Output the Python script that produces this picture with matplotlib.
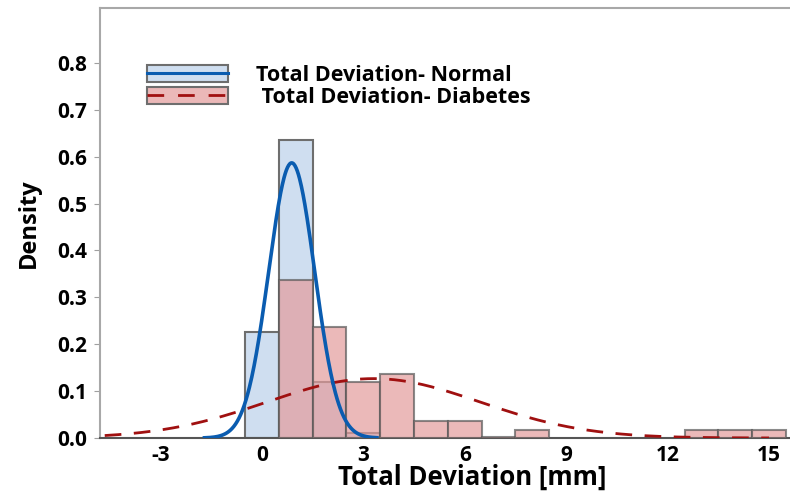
import numpy as np
import matplotlib.pyplot as plt
from matplotlib.patches import Patch
from matplotlib.lines import Line2D
from matplotlib.legend_handler import HandlerTuple

plt.rcParams['font.family'] = ['Open Sans', 'DejaVu Sans']
plt.rcParams['font.weight'] = 'bold'
plt.rcParams['axes.unicode_minus'] = False

# histogram densities, bins of width 1 centred on integers
normal_bins = [0, 1, 2, 3]
normal_density = [0.227, 0.635, 0.12, 0.01]
diab_bins = [1, 2, 3, 4, 5, 6, 7, 8, 13, 14, 15]
diab_density = [0.337, 0.237, 0.12, 0.136, 0.036, 0.036, 0.003, 0.017, 0.017, 0.017, 0.017]

# fitted normal curves (mean, sd) and drawn range
normal_fit = (0.88, 0.68)
normal_range = (-1.7, 3.4)
diab_fit = (3.3, 3.15)
diab_range = (-4.65, 15.0)


def pdf(x, mu, sd):
    return np.exp(-0.5 * ((x - mu) / sd) ** 2) / (sd * np.sqrt(2 * np.pi))


fig = plt.figure(figsize=(7.9, 4.93), dpi=100)
ax = fig.add_axes([100 / 790, 1 - 438 / 493, 1 - 100 / 790, (438 - 8) / 493])

ax.bar(normal_bins, normal_density, width=1.0, color='#cfdef0',
       edgecolor='#6e6e6e', linewidth=1.5, zorder=2)
ax.bar(diab_bins, diab_density, width=1.0, color='#e39c9c', alpha=0.7,
       edgecolor='#5a5a5a', linewidth=1.5, zorder=3)

xn = np.linspace(*normal_range, 300)
ax.plot(xn, pdf(xn, *normal_fit), color='#0a5cb0', lw=2.6, zorder=5)
xd = np.linspace(*diab_range, 400)
ax.plot(xd, pdf(xd, *diab_fit), color='#a01010', lw=2, dashes=(6, 4.5), zorder=4)

ax.set_xlim(-4.79, 15.62)
ax.set_ylim(0, 0.917)
ax.set_xticks([-3, 0, 3, 6, 9, 12, 15])
ax.set_yticks(np.arange(0, 0.81, 0.1))
ax.set_yticklabels([f'{v:.1f}' for v in np.arange(0, 0.81, 0.1)])
ax.tick_params(axis='both', labelsize=15, colors='#a0a0a0', labelcolor='black')
ax.tick_params(axis='x', length=0, pad=5)
ax.tick_params(axis='y', length=4, pad=5)

for s in ['left', 'top']:
    ax.spines[s].set_color('#a8a8a8')
    ax.spines[s].set_linewidth(1.5)
ax.spines['bottom'].set_color('#555555')
ax.spines['bottom'].set_linewidth(1.5)
ax.spines['right'].set_visible(False)

ax.set_xlabel('Total Deviation [mm]', fontsize=18.5, fontweight='bold')
ax.xaxis.set_label_coords((472 - 100) / 690, -0.06, transform=ax.transAxes)
ax.xaxis.label.set_va('top')
ax.set_ylabel('Density', fontsize=17, fontweight='bold', labelpad=12)

h1 = (Patch(facecolor='#cfdef0', edgecolor='#6e6e6e', lw=1.5),
      Line2D([], [], color='#0a5cb0', lw=2.2))
h2 = (Patch(facecolor='#ebb8b8', edgecolor='#6e6e6e', lw=1.5),
      Line2D([], [], color='#a01010', lw=2, dashes=(6, 5)))
ax.legend([h1, h2], ['Total Deviation- Normal', ' Total Deviation- Diabetes'],
          handler_map={tuple: HandlerTuple(ndivide=1, pad=0)},
          loc='upper left', bbox_to_anchor=(0.055, 0.888), frameon=False,
          fontsize=15.5, handlelength=3.8, handleheight=0.8, handletextpad=1.3,
          labelspacing=0.05, borderaxespad=0)

fig.savefig('out.png', dpi=100)
